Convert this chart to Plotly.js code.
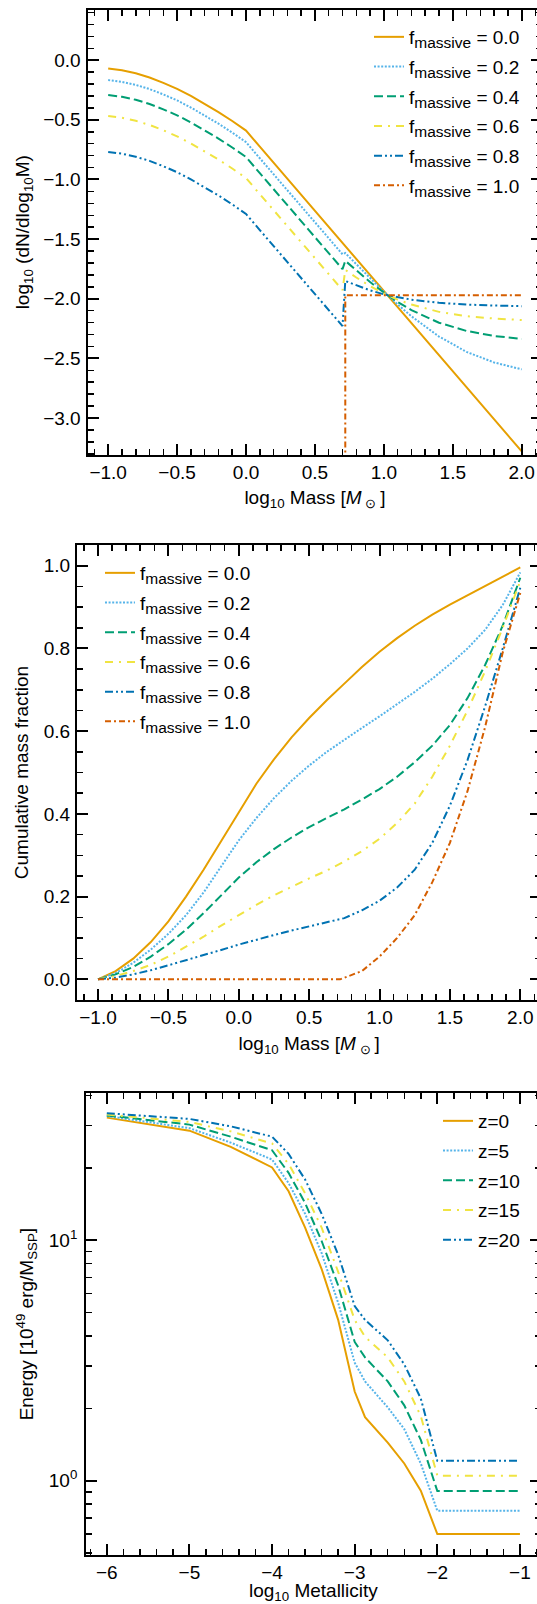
<!DOCTYPE html>
<html><head><meta charset="utf-8">
<script src="https://cdn.plot.ly/plotly-3.0.1.min.js"></script>
<style>html,body{margin:0;padding:0;overflow:hidden;background:#fff}#chart{width:550px;height:1604px}</style>
</head><body><div id="chart"></div>
<script>
// ---------- Panel 1: IMF, log10(dN/dlog10 M) ----------
const imfMass = [-1.0,-0.9,-0.8,-0.7,-0.6,-0.5,-0.4,-0.3,-0.2,-0.1,0.0,0.1,0.2,0.3,0.4,0.5,0.6,0.7,0.72,0.8,0.9,1.0,1.1,1.2,1.4,1.6,1.8,2.0];
const imfF00 = [-0.07,-0.085,-0.11,-0.145,-0.19,-0.24,-0.30,-0.365,-0.435,-0.51,-0.59,-0.725,-0.86,-0.995,-1.13,-1.265,-1.40,-1.53,-1.56,-1.665,-1.80,-1.935,-2.07,-2.205,-2.475,-2.745,-3.01,-3.28];
const imfF02 = [-0.167,-0.182,-0.207,-0.242,-0.287,-0.337,-0.397,-0.462,-0.532,-0.607,-0.687,-0.822,-0.957,-1.092,-1.227,-1.362,-1.497,-1.627,-1.617,-1.711,-1.829,-1.942,-2.048,-2.147,-2.317,-2.446,-2.534,-2.592];
const imfF04 = [-0.292,-0.307,-0.332,-0.367,-0.412,-0.462,-0.522,-0.587,-0.657,-0.732,-0.812,-0.947,-1.082,-1.217,-1.352,-1.487,-1.622,-1.752,-1.682,-1.763,-1.860,-1.948,-2.027,-2.095,-2.201,-2.270,-2.312,-2.337];
const imfF06 = [-0.468,-0.483,-0.508,-0.543,-0.588,-0.638,-0.698,-0.763,-0.833,-0.908,-0.988,-1.123,-1.258,-1.393,-1.528,-1.663,-1.798,-1.928,-1.758,-1.822,-1.894,-1.956,-2.007,-2.049,-2.110,-2.146,-2.166,-2.178];
const imfF08 = [-0.769,-0.784,-0.809,-0.844,-0.889,-0.939,-0.999,-1.064,-1.134,-1.209,-1.289,-1.424,-1.559,-1.694,-1.829,-1.964,-2.099,-2.229,-1.851,-1.889,-1.930,-1.963,-1.988,-2.008,-2.034,-2.049,-2.057,-2.062];
const imfMassF10 = [0.72,0.72,1.0,1.5,2.0];
const imfF10 = [-3.6,-1.97,-1.97,-1.97,-1.97];

// ---------- Panel 2: cumulative mass fraction ----------
const cumMass = [-1.0,-0.875,-0.75,-0.625,-0.5,-0.375,-0.25,-0.125,0.0,0.125,0.25,0.375,0.5,0.625,0.75,0.875,1.0,1.125,1.25,1.375,1.5,1.625,1.75,1.875,2.0];
const cumF00 = [0,0.02,0.05,0.09,0.14,0.2,0.265,0.335,0.405,0.473,0.532,0.585,0.632,0.675,0.715,0.755,0.792,0.825,0.855,0.882,0.906,0.929,0.951,0.973,0.996];
const cumF02 = [0,0.015,0.04,0.072,0.11,0.155,0.21,0.272,0.336,0.39,0.438,0.48,0.517,0.55,0.58,0.608,0.636,0.665,0.695,0.727,0.762,0.80,0.845,0.905,0.984];
const cumF04 = [0,0.012,0.03,0.055,0.085,0.12,0.16,0.204,0.246,0.283,0.315,0.343,0.368,0.39,0.411,0.435,0.46,0.49,0.525,0.565,0.615,0.68,0.76,0.855,0.971];
const cumF06 = [0,0.008,0.02,0.035,0.055,0.078,0.103,0.13,0.156,0.18,0.203,0.224,0.244,0.263,0.285,0.31,0.34,0.378,0.425,0.49,0.565,0.65,0.745,0.85,0.963];
const cumF08 = [0,0.004,0.012,0.022,0.034,0.046,0.058,0.071,0.084,0.096,0.107,0.118,0.128,0.137,0.148,0.167,0.19,0.222,0.265,0.33,0.42,0.53,0.66,0.8,0.947];
const cumMassF10 = [-1.0,0.72,0.875,1.0,1.125,1.25,1.375,1.5,1.625,1.75,1.875,2.0];
const cumF10 = [0,0,0.02,0.055,0.1,0.155,0.235,0.33,0.455,0.61,0.79,0.934];

// ---------- Panel 3: energy vs metallicity ----------
const metal = [-6,-5,-4.5,-4,-3.8,-3.6,-3.4,-3.2,-3.0,-2.875,-2.6,-2.4,-2.2,-2.0,-1.0];
const enZ0  = [32.4,28.6,24.5,20.1,16.0,11.3,7.6,4.67,2.35,1.84,1.44,1.18,0.91,0.60,0.60];
const enZ5  = [32.9,29.3,25.5,21.7,17.3,12.9,8.85,5.5,3.10,2.59,2.02,1.64,1.18,0.75,0.75];
const enZ10 = [33.1,30.3,27.0,23.7,19.1,14.3,9.94,6.49,3.78,3.26,2.59,2.06,1.48,0.906,0.906];
const enZ15 = [33.4,31.1,28.4,25.3,20.8,15.7,11.3,7.4,4.67,3.97,3.26,2.59,1.86,1.05,1.05];
const enZ20 = [33.8,32.0,29.8,27.0,22.9,17.9,12.9,8.71,5.33,4.67,3.84,3.05,2.20,1.21,1.21];

const fLabels = ['0.0','0.2','0.4','0.6','0.8','1.0'];
const zLabels = ['z=0','z=5','z=10','z=15','z=20'];

const colors = ['#E69F00','#56B4E9','#009E73','#F0E442','#0072B2','#D55E00'];
const dashes = ['solid','2px,1.6px','9px,4px','8px,6px,2px,6px','8px,3px,2px,3px,2px,3px','6px,3px,2px,3px'];
const LW = 2;

function fName(v){ return 'f<sub><span style="font-size:15.5px">massive</span></sub> = ' + v; }

const traces = [];
const imfX = [imfMass,imfMass,imfMass,imfMass,imfMass,imfMassF10];
const imfY = [imfF00,imfF02,imfF04,imfF06,imfF08,imfF10];
for (let i=0;i<6;i++){
  traces.push({x:imfX[i], y:imfY[i], xaxis:'x', yaxis:'y', mode:'lines', legend:'legend', legendgroup:'a'+i,
    name:fName(fLabels[i]), line:{color:colors[i], width:LW, dash:dashes[i]}});
}
const cumX = [cumMass,cumMass,cumMass,cumMass,cumMass,cumMassF10];
const cumY = [cumF00,cumF02,cumF04,cumF06,cumF08,cumF10];
for (let i=0;i<6;i++){
  traces.push({x:cumX[i], y:cumY[i], xaxis:'x2', yaxis:'y2', mode:'lines', legend:'legend2', legendgroup:'b'+i,
    name:fName(fLabels[i]), line:{color:colors[i], width:LW, dash:dashes[i]}});
}
const enY = [enZ0,enZ5,enZ10,enZ15,enZ20];
for (let i=0;i<5;i++){
  traces.push({x:metal, y:enY[i], xaxis:'x3', yaxis:'y3', mode:'lines', legend:'legend3', legendgroup:'c'+i,
    name:zLabels[i], line:{color:colors[i], width:LW, dash:dashes[i]}});
}

const FONT = 'Liberation Sans, Arial, Helvetica, sans-serif';
const FS = 19;
const minorBase = {ticks:'inside', ticklen:6, tickwidth:1.5, tickcolor:'#000', showgrid:false};
function ax(extra){
  return Object.assign({
    showline:true, linewidth:2, linecolor:'#000', mirror:'allticks',
    ticks:'inside', ticklen:11, tickwidth:2, tickcolor:'#000',
    showgrid:false, zeroline:false, automargin:false,
    tickfont:{family:FONT,size:FS,color:'#000'}
  }, extra);
}
const W = 550, H = 1604;
function dx(a,b){return [a/W,b/W];}
function dy(top,bot){return [1-bot/H,1-top/H];}
const XSTAND = -1;
const massTitle = 'log<sub>10</sub> Mass [<i>M</i>\u2009<sub>⊙</sub>\u2009]';

const legendBase = {font:{family:FONT,size:FS,color:'#000'}, bgcolor:'rgba(0,0,0,0)', borderwidth:0,
  tracegroupgap:2, xanchor:'left', yanchor:'top', itemclick:false, itemdoubleclick:false};

const layout = {
  width:W, height:H, margin:{l:0,r:0,t:0,b:0}, paper_bgcolor:'#fff', plot_bgcolor:'#fff',
  font:{family:FONT,size:FS,color:'#000'}, showlegend:true,
  xaxis: ax({domain:dx(87.5,542.4), anchor:'y', range:[-1.15,2.15], dtick:0.5, tick0:0, tickformat:'.1f',
    ticklabelstandoff:XSTAND, minor:Object.assign({dtick:0.1}, minorBase),
    title:{text:massTitle, font:{family:FONT,size:FS}, standoff:9}}),
  yaxis: ax({domain:dy(9.5,455), anchor:'x', range:[-3.31,0.425], dtick:0.5, tick0:0, tickformat:'.1f',
    ticklabelstandoff:1, minor:Object.assign({dtick:0.1}, minorBase),
    title:{text:'log<sub>10</sub> (dN/dlog<sub>10</sub>M)', font:{family:FONT,size:FS}, standoff:9}}),
  xaxis2: ax({domain:dx(76.9,541.4), anchor:'y2', range:[-1.15,2.15], dtick:0.5, tick0:0, tickformat:'.1f',
    ticklabelstandoff:XSTAND, minor:Object.assign({dtick:0.1}, minorBase),
    title:{text:massTitle, font:{family:FONT,size:FS}, standoff:10}}),
  yaxis2: ax({domain:dy(545.1,1000), anchor:'x2', range:[-0.05,1.05], dtick:0.2, tick0:0, tickformat:'.1f',
    ticklabelstandoff:1, minor:Object.assign({dtick:0.05}, minorBase),
    title:{text:'Cumulative mass fraction', font:{family:FONT,size:FS}, standoff:10}}),
  xaxis3: ax({domain:dx(86.15,540.6), anchor:'y3', range:[-6.25,-0.75], dtick:1, tick0:0,
    ticklabelstandoff:XSTAND, minor:Object.assign({dtick:0.2}, minorBase),
    title:{text:'log<sub>10</sub> Metallicity', font:{family:FONT,size:FS}, standoff:12}}),
  yaxis3: ax({domain:dy(1093,1555.3), anchor:'x3', type:'log', range:[-0.31,1.613],
    tickmode:'array', tickvals:[1,10], ticktext:['10<sup>0</sup>','10<sup>1</sup>'],
    ticklabelstandoff:3,
    minor:Object.assign({tickmode:'array', tickvals:[0.5,0.6,0.7,0.8,0.9,2,3,4,5,6,7,8,9,20,30,40]}, minorBase),
    title:{text:'Energy [10<sup>49</sup> erg/M<sub>SSP</sub>]', font:{family:FONT,size:FS}, standoff:10}}),
  legend: Object.assign({}, legendBase, {x:369/W, y:1-18/H}),
  legend2: Object.assign({}, legendBase, {x:100/W, y:1-554/H}),
  legend3: Object.assign({}, legendBase, {x:438/W, y:1-1102/H})
};

Plotly.newPlot('chart', traces, layout, {displayModeBar:false, staticPlot:true});
</script></body></html>
